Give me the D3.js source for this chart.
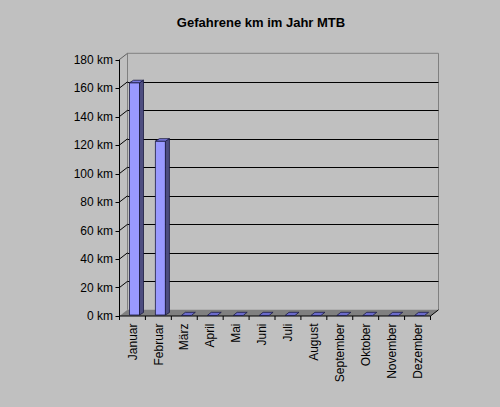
<!DOCTYPE html>
<html><head><meta charset="utf-8">
<script src="https://cdn.jsdelivr.net/npm/d3@7/dist/d3.min.js"></script>
<style>body{margin:0;background:#C0C0C0;}svg{display:block;}text{font-family:"Liberation Sans",Arial,sans-serif;fill:#000;}</style>
</head><body>
<script>
const months = ["Januar","Februar","März","April","Mai","Juni","Juli","August","September","Oktober","November","Dezember"];
const kmValues = [163,122,0,0,0,0,0,0,0,0,0,0];
const yTicks = [0,20,40,60,80,100,120,140,160,180];
const title = "Gefahrene km im Jahr MTB";

const W=500,H=407;
const svg=d3.select("body").append("svg").attr("width",W).attr("height",H);
svg.append("rect").attr("width",W).attr("height",H).attr("fill","#C0C0C0");

const x0=119.5,x1=430.5,yb=316,yt=59.5;
const DX=8, DY=-6.2;
const x=d3.scaleBand().domain(months).range([x0,x1]).padding(0);
const y=d3.scaleLinear().domain([0,180]).range([yb,yt]);

// back wall edges (grey)
svg.append("path").attr("d",`M${x0+DX},${yb+DY}V${yt+DY}H${x1+DX}V${yb+DY}`)
  .attr("fill","none").attr("stroke","#808080").attr("stroke-width",1);
// floor
svg.append("path").attr("d",`M${x0},${yb}L${x1},${yb}L${x1+DX},${yb+DY}L${x0+DX},${yb+DY}Z`)
  .attr("fill","#808080");
// gridlines on back wall + diagonals on left wall
yTicks.filter(v=>v>0).forEach(v=>{
  const yy=Math.round(y(v)+DY)+0.5;
  if(v<180) svg.append("line").attr("x1",x0+DX).attr("x2",x1+DX).attr("y1",yy).attr("y2",yy).attr("stroke","#000");
  svg.append("line").attr("x1",x0).attr("y1",y(v)).attr("x2",x0+DX).attr("y2",y(v)+DY).attr("stroke",v==180?"#606060":"#000");
});
// y axis
svg.append("line").attr("x1",x0).attr("x2",x0).attr("y1",yt).attr("y2",yb).attr("stroke","#000");
yTicks.forEach(v=>{
  svg.append("line").attr("x1",x0-4).attr("x2",x0).attr("y1",Math.round(y(v))+0.5).attr("y2",Math.round(y(v))+0.5).attr("stroke","#000");
  svg.append("text").attr("x",113).attr("y",y(v)).attr("dy","0.35em").attr("text-anchor","end")
    .attr("font-size",12).text(v+" km");
});
// x axis
svg.append("path").attr("d",`M${x0},${yb}H${x1}L${x1+DX},${yb+DY}`).attr("fill","none").attr("stroke","#000");
months.forEach((m,i)=>{
  const xx=x(m);
  svg.append("line").attr("x1",xx).attr("x2",xx).attr("y1",yb).attr("y2",yb+4).attr("stroke","#000");
});
svg.append("line").attr("x1",x1).attr("x2",x1).attr("y1",yb).attr("y2",yb+4).attr("stroke","#000");

// bars
const bw=x.bandwidth()*0.386, bdx=4, bdy=-2.5, off=x.bandwidth()*0.386;
const base=yb-1;
const by=v=>base-(yb-y(v));
months.forEach((m,i)=>{
  const v=kmValues[i];
  const xl=x(m)+off, xr=xl+bw, yy=by(v);
  const g=svg.append("g").attr("stroke","#1a1a40").attr("stroke-width",0.8).attr("stroke-linejoin","round");
  if(v>0){
    g.append("rect").attr("x",xl).attr("y",yy).attr("width",bw).attr("height",base-yy).attr("fill","#9999FF");
    g.append("path").attr("d",`M${xr},${yy}L${xr+bdx},${yy+bdy}L${xr+bdx},${base+bdy}L${xr},${base}Z`).attr("fill","#4D4D80");
    g.append("path").attr("d",`M${xl},${yy}L${xr},${yy}L${xr+bdx},${yy+bdy}L${xl+bdx},${yy+bdy}Z`).attr("fill","#7777DD");
  } else {
    const zy=base+0.5, zdy=-3.2;
    g.append("path").attr("d",`M${xl},${zy}L${xr},${zy}L${xr+bdx},${zy+zdy}L${xl+bdx},${zy+zdy}Z`).attr("fill","#6B6BCC");
  }
});

// category labels
months.forEach(m=>{
  const cx=x(m)+x.bandwidth()/2;
  svg.append("text").attr("transform",`translate(${cx},323.5) rotate(-90)`).attr("dy","0.35em")
    .attr("text-anchor","end").attr("font-size",12).text(m);
});

// title
svg.append("text").attr("x",261).attr("y",26.5).attr("text-anchor","middle")
  .attr("font-size",13).attr("font-weight","bold").text(title);
</script>
</body></html>
